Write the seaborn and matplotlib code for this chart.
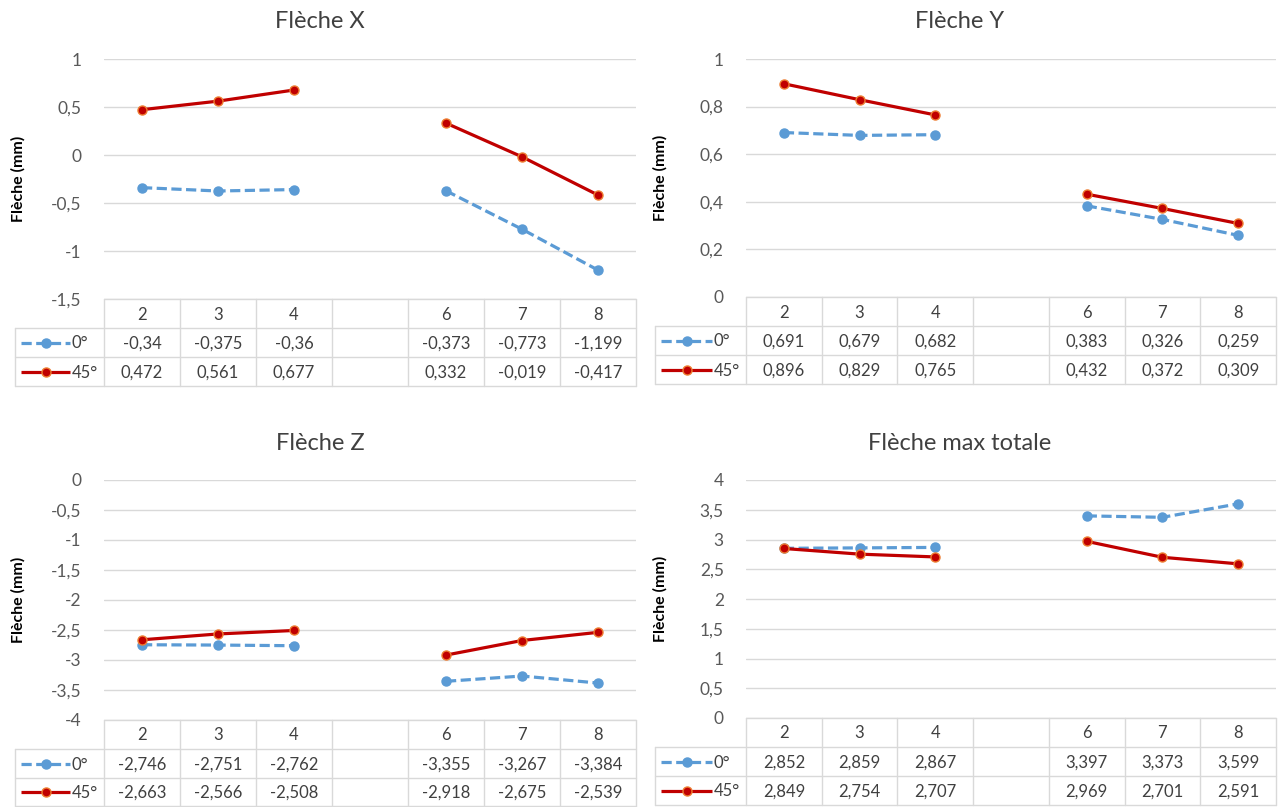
import matplotlib
matplotlib.use("Agg")
import matplotlib.pyplot as plt
import seaborn as sns
import numpy as np
import pandas as pd

# ---------------- data ----------------
categories = ["2", "3", "4", "", "6", "7", "8"]
series_names = ["0°", "45°"]

fleche_x_0 = [-0.34, -0.375, -0.36, np.nan, -0.373, -0.773, -1.199]
fleche_x_45 = [0.472, 0.561, 0.677, np.nan, 0.332, -0.019, -0.417]

fleche_y_0 = [0.691, 0.679, 0.682, np.nan, 0.383, 0.326, 0.259]
fleche_y_45 = [0.896, 0.829, 0.765, np.nan, 0.432, 0.372, 0.309]

fleche_z_0 = [-2.746, -2.751, -2.762, np.nan, -3.355, -3.267, -3.384]
fleche_z_45 = [-2.663, -2.566, -2.508, np.nan, -2.918, -2.675, -2.539]

fleche_tot_0 = [2.852, 2.859, 2.867, np.nan, 3.397, 3.373, 3.599]
fleche_tot_45 = [2.849, 2.754, 2.707, np.nan, 2.969, 2.701, 2.591]

titles = ["Flèche X", "Flèche Y", "Flèche Z", "Flèche max totale"]
y_label = "Flèche (mm)"

# ---------------- style ----------------
sns.set_theme(style="white")
plt.rcParams["font.family"] = ["Lato", "DejaVu Sans"]

W, H = 1281, 807
fig = plt.figure(figsize=(W / 100, H / 100), dpi=100)

BLUE = "#5B9BD5"
RED = "#C00000"
ORANGE = "#ED7D31"
GRID = "#D9D9D9"
TXT = "#595959"

ov = fig.add_axes([0, 0, 1, 1], zorder=0)
ov.set_xlim(0, W)
ov.set_ylim(H, 0)
ov.axis("off")

panels = [
    dict(L=104, R=636, T=59, B=299, lg=15, ymin=-1.5, ymax=1.0, step=0.5,
         rows=(299, 328, 357, 386), s0=fleche_x_0, s45=fleche_x_45,
         title=titles[0], tx=320, ty=22, ylx=18),
    dict(L=746, R=1276, T=59, B=297, lg=655, ymin=0.0, ymax=1.0, step=0.2,
         rows=(297, 326, 355, 384), s0=fleche_y_0, s45=fleche_y_45,
         title=titles[1], tx=960, ty=22, ylx=660),
    dict(L=104, R=636, T=480, B=720, lg=15, ymin=-4.0, ymax=0.0, step=0.5,
         rows=(720, 749, 778, 806), s0=fleche_z_0, s45=fleche_z_45,
         title=titles[2], tx=320, ty=443, ylx=18),
    dict(L=746, R=1276, T=480, B=718, lg=655, ymin=0.0, ymax=4.0, step=0.5,
         rows=(718, 747, 776, 805), s0=fleche_tot_0, s45=fleche_tot_45,
         title=titles[3], tx=960, ty=443, ylx=660),
]


def fmt(v):
    s = f"{v:g}"
    return s.replace(".", ",")


def seg_frame(vals):
    rows = []
    for i, v in enumerate(vals):
        if not np.isnan(v):
            rows.append(dict(x=i, y=v, seg="a" if i < 3 else "b"))
    return pd.DataFrame(rows)


styles = {
    "0°": dict(color=BLUE, linestyle=(0, (3.2, 1.4)), mfc=BLUE, mec=BLUE),
    "45°": dict(color=RED, linestyle="-", mfc=RED, mec=ORANGE),
}

for p in panels:
    L, R, T, B = p["L"], p["R"], p["T"], p["B"]
    ax = fig.add_axes([L / W, 1 - B / H, (R - L) / W, (B - T) / H], zorder=2)
    ax.patch.set_alpha(0)
    ticks = np.round(np.arange(p["ymin"], p["ymax"] + 1e-9, p["step"]), 6)
    for t in ticks:
        ax.axhline(t, color=GRID, lw=1.0, zorder=0)
    for name, vals in zip(series_names, [p["s0"], p["s45"]]):
        st = styles[name]
        sns.lineplot(data=seg_frame(vals), x="x", y="y", units="seg",
                     estimator=None, ax=ax, color=st["color"], lw=2.3,
                     linestyle=st["linestyle"], marker="o", markersize=6.5,
                     markerfacecolor=st["mfc"], markeredgecolor=st["mec"],
                     markeredgewidth=1.0, legend=False, zorder=3)
    ax.set_xlim(-0.5, 6.5)
    ax.set_ylim(p["ymin"], p["ymax"])
    ax.set_yticks(ticks)
    ax.set_yticklabels([fmt(t) for t in ticks], color=TXT, fontsize=12.5)
    ax.tick_params(axis="y", length=0, pad=16)
    ax.set_xticks([])
    ax.set_xlabel("")
    ax.set_ylabel("")
    for s in ax.spines.values():
        s.set_visible(False)

    # title
    ov.text(p["tx"], p["ty"], p["title"], ha="center", va="center",
            fontsize=17, color="#404040")
    # y label
    ov.text(p["ylx"], (T + B) / 2, y_label, rotation=90, ha="center",
            va="center", fontsize=11.5, fontweight="bold", color="black")

    # data table
    r0, r1, r2, r3 = p["rows"]
    cw = (R - L) / 7.0
    lg = p["lg"]
    lc = dict(color=GRID, lw=1.0)
    ov.plot([L, R], [r0, r0], **lc)
    for y in (r1, r2, r3):
        ov.plot([lg, R], [y, y], **lc)
    ov.plot([lg, lg], [r1, r3], **lc)
    for k in range(8):
        x = L + k * cw
        ov.plot([x, x], [r0, r3], **lc)
    for k, c in enumerate(categories):
        ov.text(L + (k + 0.5) * cw, (r0 + r1) / 2 + 1, c, ha="center",
                va="center", fontsize=12, color="#404040")
    for name, vals, (ya, yb) in zip(series_names, [p["s0"], p["s45"]],
                                    [(r1, r2), (r2, r3)]):
        yc = (ya + yb) / 2 + 1
        for k, v in enumerate(vals):
            if not np.isnan(v):
                ov.text(L + (k + 0.5) * cw, yc, fmt(v), ha="center",
                        va="center", fontsize=12, color="#404040")
        st = styles[name]
        kx0, kx1 = lg + 6, L - 34
        ov.plot([kx0, kx1], [yc - 1, yc - 1], color=st["color"], lw=2.3,
                linestyle=st["linestyle"], solid_capstyle="butt")
        ov.plot([(kx0 + kx1) / 2], [yc - 1], marker="o", markersize=6.5,
                color=st["color"], markerfacecolor=st["mfc"],
                markeredgecolor=st["mec"], markeredgewidth=1.0)
        ov.text(kx1 + 2, yc, name, ha="left", va="center", fontsize=12,
                color="#404040")

fig.savefig("out.png", dpi=100)
